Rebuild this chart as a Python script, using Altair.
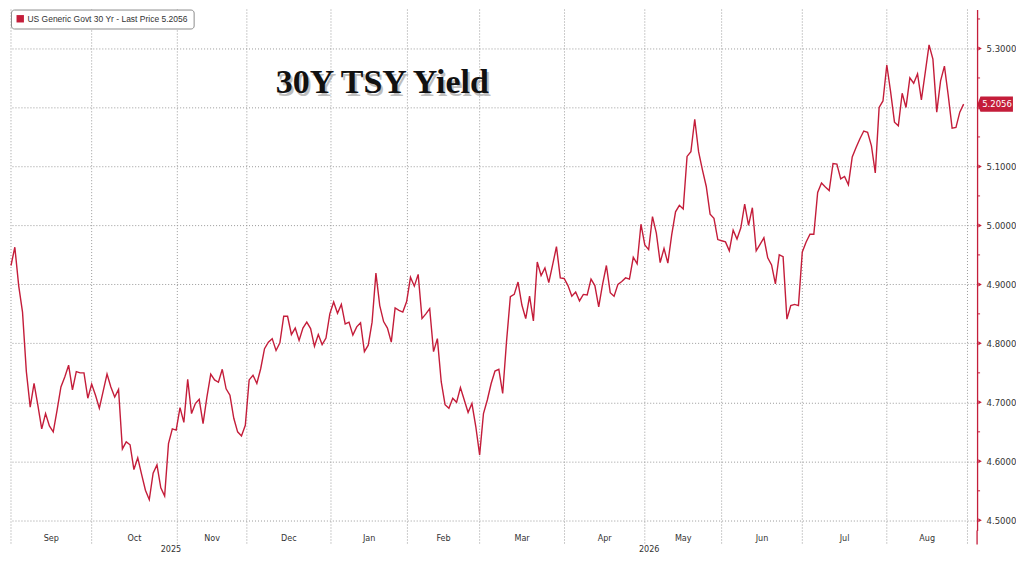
import altair as alt
import pandas as pd

RED = "#c41d3a"
series_name = "US Generic Govt 30 Yr - Last Price 5.2056"
title_text = ["30Y TSY Yield"]
last_price = [5.2056]

yields = [
    4.932, 4.963, 4.898, 4.853, 4.752, 4.692, 4.732, 4.695, 4.655, 4.681,
    4.660, 4.650, 4.687, 4.726, 4.743, 4.763, 4.721, 4.752, 4.750, 4.750,
    4.707, 4.731, 4.712, 4.690, 4.719, 4.748, 4.726, 4.709, 4.722, 4.621,
    4.633, 4.628, 4.586, 4.606, 4.578, 4.551, 4.535, 4.580, 4.594, 4.555,
    4.541, 4.630, 4.655, 4.653,
    4.691, 4.666, 4.739, 4.681, 4.698, 4.705, 4.664, 4.709, 4.748, 4.738,
    4.734, 4.756, 4.723, 4.712, 4.673, 4.650, 4.643, 4.661, 4.738, 4.746,
    4.732, 4.757, 4.791, 4.802, 4.808, 4.788, 4.801, 4.846, 4.846, 4.815,
    4.826, 4.805, 4.826, 4.836, 4.825, 4.795, 4.815, 4.798, 4.809, 4.850,
    4.870, 4.851,
    4.866, 4.833, 4.836, 4.814, 4.828, 4.835, 4.786, 4.797, 4.836, 4.919,
    4.864, 4.837, 4.826, 4.802, 4.860, 4.856, 4.853, 4.871, 4.912, 4.897,
    4.917, 4.842, 4.850, 4.859, 4.786, 4.808, 4.735, 4.696, 4.690, 4.707,
    4.700, 4.725, 4.704, 4.683, 4.698, 4.659, 4.611, 4.681, 4.704, 4.732,
    4.753,
    4.756, 4.715, 4.803, 4.879, 4.883, 4.904, 4.865, 4.842, 4.880, 4.838,
    4.938, 4.915, 4.928, 4.903, 4.933, 4.964, 4.911, 4.910, 4.898, 4.880,
    4.887, 4.872, 4.883, 4.882, 4.909, 4.898, 4.862, 4.900, 4.932, 4.886,
    4.880, 4.900, 4.905, 4.911, 4.909, 4.946, 4.935, 5.002, 4.967, 4.959,
    5.015, 4.987, 4.937, 4.961, 4.936, 4.984, 5.023, 5.034, 5.028, 5.117,
    5.125, 5.180, 5.125, 5.094, 5.066, 5.019, 5.012, 4.976, 4.974, 4.972,
    4.957, 4.992, 4.977, 4.996, 5.036, 5.000, 5.030, 4.957, 4.968, 4.979,
    4.945, 4.933, 4.901, 4.950, 4.947, 4.841, 4.864, 4.866, 4.864, 4.955,
    4.972, 4.985, 4.985, 5.056, 5.072, 5.065, 5.059, 5.105, 5.104, 5.079,
    5.083, 5.069, 5.116, 5.132, 5.147, 5.160, 5.158, 5.135, 5.089, 5.200,
    5.211, 5.272, 5.226, 5.175, 5.169, 5.224, 5.200, 5.250, 5.241, 5.257,
    5.213, 5.259, 5.306, 5.282, 5.192, 5.245, 5.270, 5.220, 5.165, 5.166,
    5.192, 5.2056,
]

# trading-day index of the month boundaries
month_labels = ["Sep", "Oct", "Nov", "Dec", "Jan", "Feb", "Mar", "Apr", "May", "Jun", "Jul", "Aug"]
month_bounds = [0, 21, 43.3, 61.4, 83.3, 103.2, 122, 144.1, 165, 185, 206, 228, 249]
year_labels = ["2025", "2026"]
year_bounds = [0, 83.3, 249]
y_ticks = [4.5, 4.6, 4.7, 4.8, 4.9, 5.0, 5.1, 5.2, 5.3]
y_minor = [4.55, 4.65, 4.75, 4.85, 4.95, 5.05, 5.15, 5.25, 5.35]

W, H = 968, 522
NARROW = "Liberation Sans Narrow, DejaVu Sans Condensed, Arial Narrow, sans-serif"

line_df = pd.DataFrame({"idx": list(range(len(yields))), "value": yields, "series": series_name})
bounds_df = pd.DataFrame({"pos": month_bounds})
months_df = pd.DataFrame({
    "label": month_labels,
    "mid": [(a + b) / 2 for a, b in zip(month_bounds[:-1], month_bounds[1:])],
})
years_df = pd.DataFrame({
    "label": year_labels,
    "mid": [(a + b) / 2 for a, b in zip(year_bounds[:-1], year_bounds[1:])],
})
title_df = pd.DataFrame({"t": title_text})
minor_df = pd.DataFrame({"v": y_minor})
major_df = pd.DataFrame({"v": y_ticks})
price_df = pd.DataFrame({"v": last_price, "t": [f"{p:.4f}" for p in last_price]})

xscale = alt.Scale(domain=[0, 251.5], nice=False, zero=False)
yscale = alt.Scale(domain=[4.4827, 5.366], nice=False, zero=False)


def yaxis():
    return alt.Axis(
        orient="right", values=y_ticks, format=".4f",
        labelExpr="abs(datum.value - 5.2) < 0.001 ? '' : format(datum.value, '.4f')",
        grid=True, gridColor="#9a9a9a", gridDash=[1, 2], gridWidth=1,
        domain=True, domainColor=RED, domainWidth=1.3,
        ticks=False, labelPadding=9, labelFont=NARROW, labelFontSize=9.5,
        labelColor="#333333", title=None,
    )


vrules = alt.Chart(bounds_df).mark_rule(color="#9a9a9a", strokeDash=[1, 2], strokeWidth=1).encode(
    x=alt.X("pos:Q", scale=xscale, axis=None),
    y=alt.value(0), y2=alt.value(H + 14),
)

axis_ext = alt.Chart(price_df).mark_rule(color=RED, strokeWidth=1.3).encode(
    x=alt.value(W), y=alt.value(H), y2=alt.value(H + 14),
)

line = alt.Chart(line_df).mark_line(strokeWidth=1.4, strokeJoin="miter").encode(
    x=alt.X("idx:Q", scale=xscale, axis=None),
    y=alt.Y("value:Q", scale=yscale, axis=yaxis()),
    color=alt.Color(
        "series:N", scale=alt.Scale(range=[RED]),
        legend=alt.Legend(
            title=None, orient="top-left", offset=0, padding=5, cornerRadius=3,
            strokeColor="#8c8c8c", fillColor="white", symbolType="square",
            symbolSize=55, symbolFillColor=RED, symbolStrokeColor=RED, symbolStrokeWidth=0,
            labelFont="Liberation Sans, Arial, sans-serif", labelFontSize=8.5,
            labelColor="#333333", labelOffset=3, labelLimit=0,
        ),
    ),
)

months = alt.Chart(months_df).mark_text(
    font=NARROW, fontSize=9, color="#333333", baseline="top", align="center"
).encode(x=alt.X("mid:Q", scale=xscale, axis=None), y=alt.value(H + 4), text="label:N")

years = alt.Chart(years_df).mark_text(
    font=NARROW, fontSize=9, color="#333333", baseline="top", align="center"
).encode(x=alt.X("mid:Q", scale=xscale, axis=None), y=alt.value(H + 15), text="label:N")

title_shadow = alt.Chart(title_df).mark_text(
    font="Liberation Serif, Times New Roman, serif", fontSize=34, fontWeight="bold",
    color="#808080", opacity=0.5, dx=2, dy=3, align="center", baseline="middle",
).encode(x=alt.value(372), y=alt.value(74), text="t:N")

title = alt.Chart(title_df).mark_text(
    font="Liberation Serif, Times New Roman, serif", fontSize=34, fontWeight="bold",
    color="#111111", align="center", baseline="middle",
).encode(x=alt.value(372), y=alt.value(74), text="t:N")

minor_ticks = alt.Chart(minor_df).mark_rule(color=RED, strokeWidth=1).encode(
    y=alt.Y("v:Q", scale=yscale, axis=yaxis()), x=alt.value(W), x2=alt.value(W + 3),
)

major_ticks = alt.Chart(major_df).mark_point(
    shape="triangle-right", filled=True, color=RED, size=16, opacity=1
).encode(y=alt.Y("v:Q", scale=yscale, axis=yaxis()), x=alt.value(W + 3))

tag = alt.Chart(price_df).mark_point(
    shape="M-1.1,0L-0.92,-0.45L1,-0.45L1,0.45L-0.92,0.45Z",
    filled=True, color=RED, size=1150, opacity=1,
).encode(y=alt.Y("v:Q", scale=yscale, axis=yaxis()), x=alt.value(W + 19))

tag_text = alt.Chart(price_df).mark_text(
    font=NARROW, fontSize=9.5, color="white", align="center", baseline="middle",
).encode(y=alt.Y("v:Q", scale=yscale, axis=yaxis()), x=alt.value(W + 20), text="t:N")

chart = alt.layer(
    vrules, axis_ext, line, months, years, title_shadow, title,
    minor_ticks, major_ticks, tag, tag_text
).properties(
    width=W, height=H, padding=0, background="white"
).configure_view(stroke=None)

chart.save("out.html", embed_options={"renderer": "svg", "actions": False})
